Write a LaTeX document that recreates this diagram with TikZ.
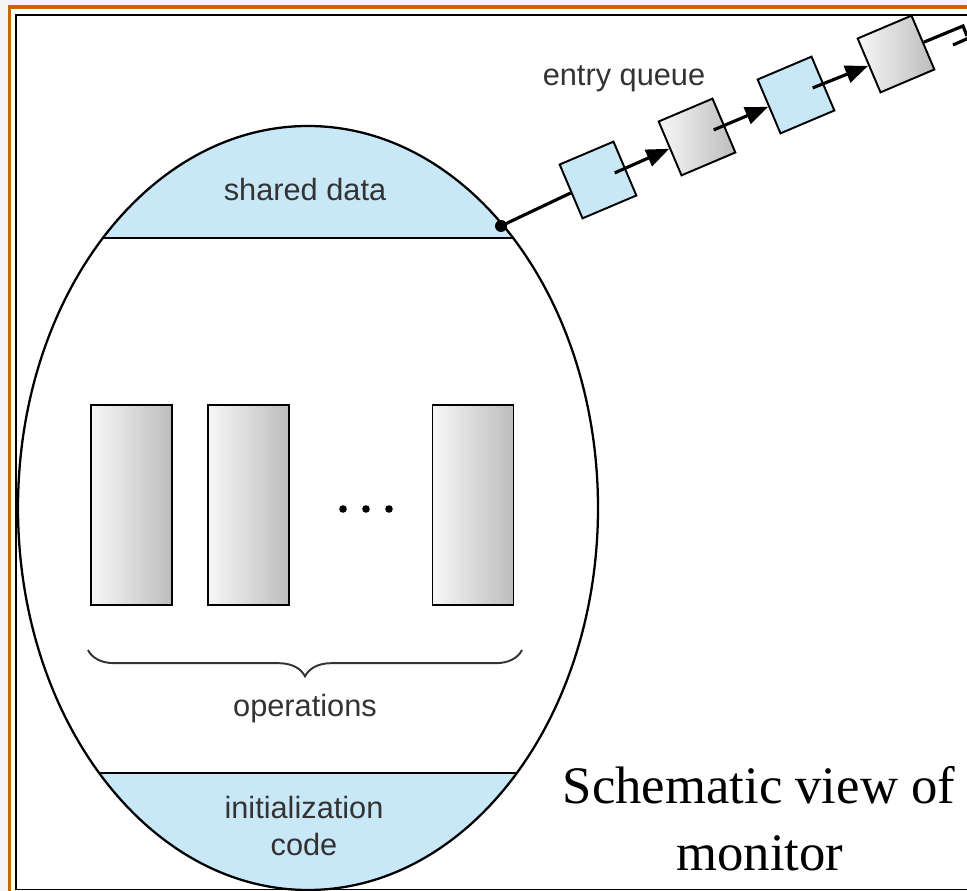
\documentclass[tikz,border=0pt]{standalone}
\usepackage{fontspec}
\setmainfont{Liberation Serif}
\setsansfont{Liberation Sans}
\usetikzlibrary{arrows.meta,decorations.pathreplacing,calc}
\definecolor{capblue}{HTML}{C8E8F8}
\definecolor{frameorange}{HTML}{CC6600}
\definecolor{labelgray}{HTML}{333333}

\begin{document}
\begin{tikzpicture}[x=0.02cm,y=-0.02cm,
    lbl/.style={font=\sffamily\fontsize{17.5}{21.5}\selectfont,text=labelgray,inner sep=0pt},
    opbox/.style={draw,line width=1.1pt,minimum width=1.62cm,minimum height=4cm,inner sep=0pt,left color=gray!6,middle color=gray!40,right color=gray!52},
    qbox/.style={draw,line width=1.1pt,minimum size=1.17cm,inner sep=0pt,rotate=23},
    blueq/.style={qbox,fill=capblue},
    greyq/.style={qbox,left color=gray!6,middle color=gray!40,right color=gray!52},
    qlink/.style={line width=1.8pt},
    qarrow/.style={qlink,-{Triangle[length=13pt,width=10pt]}}]
    \useasboundingbox (0,0) rectangle (967,891);
    \clip (0,0) rectangle (967,891);

    %slide frame
    \fill[gray!8] (0,0) rectangle (967,891);
    \draw[frameorange,line width=2pt,fill=white] (9.7,7) rectangle (1000,930);
    \draw[line width=1pt] (16,15) rectangle (990,889.5);

    %monitor body: shared data on top, initialization code at the bottom
    \begin{scope}
        \clip (308,508) ellipse [x radius=290, y radius=382];
        \fill[capblue] (0,100) rectangle (620,238);
        \fill[capblue] (0,773) rectangle (620,900);
        \draw[line width=1.3pt] (0,238) -- (620,238);
        \draw[line width=1.3pt] (0,773) -- (620,773);
    \end{scope}
    \draw[line width=1.3pt] (308,508) ellipse [x radius=290, y radius=382];
    \coordinate (entry) at (501,226);
    \fill (entry) circle [radius=6];

    \node[lbl] (shared) at (305,190) {shared data};
    \node[lbl,align=center] (init) at (304,826) {initialization\\code};

    %operations
    \node[opbox] (op1) at (131.5,505) {};
    \node[opbox] (op2) at (248.5,505) {};
    \node[opbox] (opn) at (473,505) {};
    \fill (343,509) circle [radius=3.8] (366,509) circle [radius=3.8] (389,509) circle [radius=3.8];
    \draw[labelgray,line width=1.1pt,decorate,decoration={brace,mirror,amplitude=15pt}] (88,650) -- (522,650);
    \node[lbl] (ops) at (305,709) {operations};

    %entry queue
    \node[lbl] (queue) at (624,79) {entry queue};
    \node[blueq] (q1) at (598,180) {};
    \node[greyq] (q2) at (697,137) {};
    \node[blueq] (q3) at (796,95) {};
    \node[greyq] (q4) at (896,54) {};
    \coordinate (nil) at (963,26);
    \draw[qlink] (entry) -- (q1);
    \draw[qarrow] ($(q1.center)!0.6!(q1.east)$) -- (q2.west);
    \draw[qarrow] ($(q2.center)!0.6!(q2.east)$) -- (q3.west);
    \draw[qarrow] ($(q3.center)!0.6!(q3.east)$) -- (q4.west);
    \draw[qlink] (q4.east) -- (nil) -- ++(4,10);
    \draw[qlink] (953,45) -- (971,37);

    \node[font=\fontsize{30}{37}\selectfont,anchor=base] (title) at (759,803) {Schematic view of};
    \node[font=\fontsize{30}{37}\selectfont,anchor=base] (title2) at (760,870) {monitor};
\end{tikzpicture}
\end{document}
